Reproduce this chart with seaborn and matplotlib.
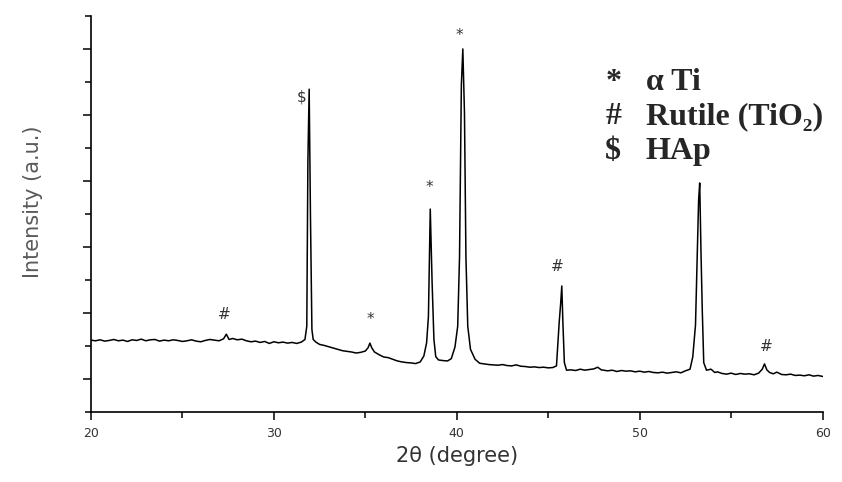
import matplotlib
matplotlib.use("Agg")
import matplotlib.pyplot as plt
from matplotlib.ticker import MultipleLocator, NullFormatter
import numpy as np
import pandas as pd
import seaborn as sns

# XRD pattern (2theta in degrees, intensity in arbitrary units)
two_theta = [
    20.0, 20.25, 20.5, 20.75, 21.0, 21.25, 21.5, 21.75, 22.0, 22.25, 22.5, 22.75,
    23.0, 23.25, 23.5, 23.75, 24.0, 24.25, 24.5, 24.75, 25.0, 25.25, 25.5, 25.75,
    26.0, 26.25, 26.5, 26.75, 27.0, 27.25, 27.4, 27.55, 27.75, 28.0, 28.25, 28.5,
    28.75, 29.0, 29.25, 29.5, 29.75, 30.0, 30.25, 30.5, 30.75, 31.0, 31.25, 31.5,
    31.7, 31.8, 31.86, 31.93, 32.0, 32.08, 32.15, 32.3, 32.5, 32.75, 33.0, 33.25,
    33.5, 33.75, 34.0, 34.25, 34.5, 34.75, 35.0, 35.15, 35.25, 35.35, 35.5, 35.75,
    36.0, 36.25, 36.5, 36.75, 37.0, 37.25, 37.5, 37.75, 38.0, 38.2, 38.35, 38.45,
    38.55, 38.65, 38.75, 38.85, 39.0, 39.25, 39.5, 39.7, 39.9, 40.05, 40.15, 40.25,
    40.33, 40.42, 40.5, 40.6, 40.75, 41.0, 41.25, 41.5, 41.75, 42.0, 42.25, 42.5,
    42.75, 43.0, 43.25, 43.5, 43.75, 44.0, 44.25, 44.5, 44.75, 45.0, 45.25, 45.45,
    45.6, 45.68, 45.74, 45.8, 45.88, 46.0, 46.25, 46.5, 46.75, 47.0, 47.25, 47.5,
    47.7, 47.9, 48.25, 48.5, 48.75, 49.0, 49.25, 49.5, 49.75, 50.0, 50.25, 50.5,
    50.75, 51.0, 51.25, 51.5, 51.75, 52.0, 52.25, 52.5, 52.75, 52.9, 53.05, 53.15,
    53.22, 53.28, 53.35, 53.42, 53.5, 53.65, 53.9, 54.1, 54.25, 54.5, 54.75, 55.0,
    55.25, 55.5, 55.75, 56.0, 56.25, 56.5, 56.7, 56.82, 56.95, 57.1, 57.3, 57.5,
    57.75, 58.0, 58.25, 58.5, 58.75, 59.0, 59.25, 59.5, 59.75, 60.0,
]
intensity = [
    2.18, 2.16, 2.19, 2.15, 2.17, 2.20, 2.16, 2.18, 2.14, 2.19, 2.17, 2.21,
    2.16, 2.19, 2.20, 2.15, 2.18, 2.16, 2.19, 2.17, 2.14, 2.16, 2.19, 2.15,
    2.13, 2.17, 2.20, 2.18, 2.16, 2.22, 2.36, 2.20, 2.23, 2.19, 2.21, 2.16,
    2.13, 2.15, 2.11, 2.14, 2.08, 2.13, 2.10, 2.12, 2.09, 2.11, 2.08, 2.12,
    2.20, 2.60, 7.60, 9.78, 5.97, 2.50, 2.20, 2.12, 2.05, 2.02, 1.98, 1.94,
    1.90, 1.86, 1.84, 1.82, 1.79, 1.81, 1.85, 1.95, 2.09, 1.95, 1.82, 1.74,
    1.67, 1.65, 1.60, 1.55, 1.52, 1.50, 1.49, 1.47, 1.52, 1.70, 2.10, 2.90,
    6.15, 3.94, 2.20, 1.68, 1.58, 1.56, 1.55, 1.62, 1.97, 2.60, 4.70, 9.90,
    11.0, 9.06, 4.70, 2.60, 1.90, 1.60, 1.48, 1.46, 1.44, 1.43, 1.42, 1.44,
    1.41, 1.40, 1.43, 1.39, 1.38, 1.36, 1.37, 1.35, 1.36, 1.34, 1.35, 1.40,
    2.73, 3.30, 3.82, 2.73, 1.50, 1.27, 1.28, 1.26, 1.30, 1.27, 1.29, 1.31,
    1.36, 1.28, 1.25, 1.27, 1.23, 1.26, 1.24, 1.25, 1.22, 1.24, 1.21, 1.23,
    1.20, 1.19, 1.21, 1.18, 1.20, 1.22, 1.19, 1.25, 1.30, 1.67, 2.64, 4.85,
    6.42, 6.94, 4.85, 3.09, 1.50, 1.27, 1.30, 1.20, 1.22, 1.17, 1.15, 1.18,
    1.14, 1.17, 1.15, 1.16, 1.13, 1.18, 1.30, 1.46, 1.28, 1.20, 1.16, 1.21,
    1.14, 1.13, 1.15, 1.11, 1.12, 1.10, 1.13, 1.09, 1.11, 1.08,
]

# phase markers above the peaks
mark_symbols = ["#", "$", "*", "*", "*", "#", "#"]
mark_x = [27.3, 31.5, 35.25, 38.5, 40.15, 45.5, 56.9]
mark_y = [2.95, 9.55, 2.8, 6.8, 11.4, 4.4, 2.0]

legend_symbols = ["*", "#", "$"]
legend_labels = ["α Ti", "Rutile (TiO₂)", "HAp"]

df = pd.DataFrame({"two_theta": two_theta, "intensity": intensity})

sns.set_style("ticks")
fig = plt.figure(figsize=(8.42, 4.82), dpi=100)
ax = fig.add_axes([0.108, 0.145, 0.869, 0.822])

sns.lineplot(data=df, x="two_theta", y="intensity", ax=ax, color="black",
             linewidth=1.1, estimator=None, sort=False)

ax.set_xlim(20, 60)
ax.set_ylim(0, 12)
sns.despine(ax=ax)
for s in ["left", "bottom"]:
    ax.spines[s].set_linewidth(1.2)
    ax.spines[s].set_color("black")

ax.xaxis.set_major_locator(MultipleLocator(10))
ax.xaxis.set_minor_locator(MultipleLocator(5))
ax.yaxis.set_major_locator(MultipleLocator(2, offset=1))
ax.yaxis.set_minor_locator(MultipleLocator(2))
ax.yaxis.set_major_formatter(NullFormatter())
ax.tick_params(axis="both", which="major", direction="out", length=6, width=1.1, color="black")
ax.tick_params(axis="both", which="minor", direction="out", length=4, width=1.1, color="black")
ax.tick_params(axis="x", labelsize=9, labelcolor="#333333", pad=5)

ax.set_xlabel("2θ (degree)", fontsize=15, color="#333333", labelpad=4)
ax.set_ylabel("Intensity (a.u.)", fontsize=15, color="#5a5a5a")
ax.yaxis.set_label_coords(-0.066, 0.53)

for sym, mx, my in zip(mark_symbols, mark_x, mark_y):
    ax.text(mx, my, sym, fontsize=11, color="#333333", ha="center", va="center")

for i, (sym, lab) in enumerate(zip(legend_symbols, legend_labels)):
    yy = 0.833 - i * 0.088
    ax.text(0.714, yy, sym, transform=ax.transAxes, fontsize=23, fontweight="bold",
            family=["Liberation Serif", "DejaVu Serif"], ha="center", va="center")
    ax.text(0.758, yy, lab, transform=ax.transAxes, fontsize=23, fontweight="bold",
            family=["Liberation Serif", "DejaVu Serif"], ha="left", va="center")

fig.savefig("out.png", dpi=100)
